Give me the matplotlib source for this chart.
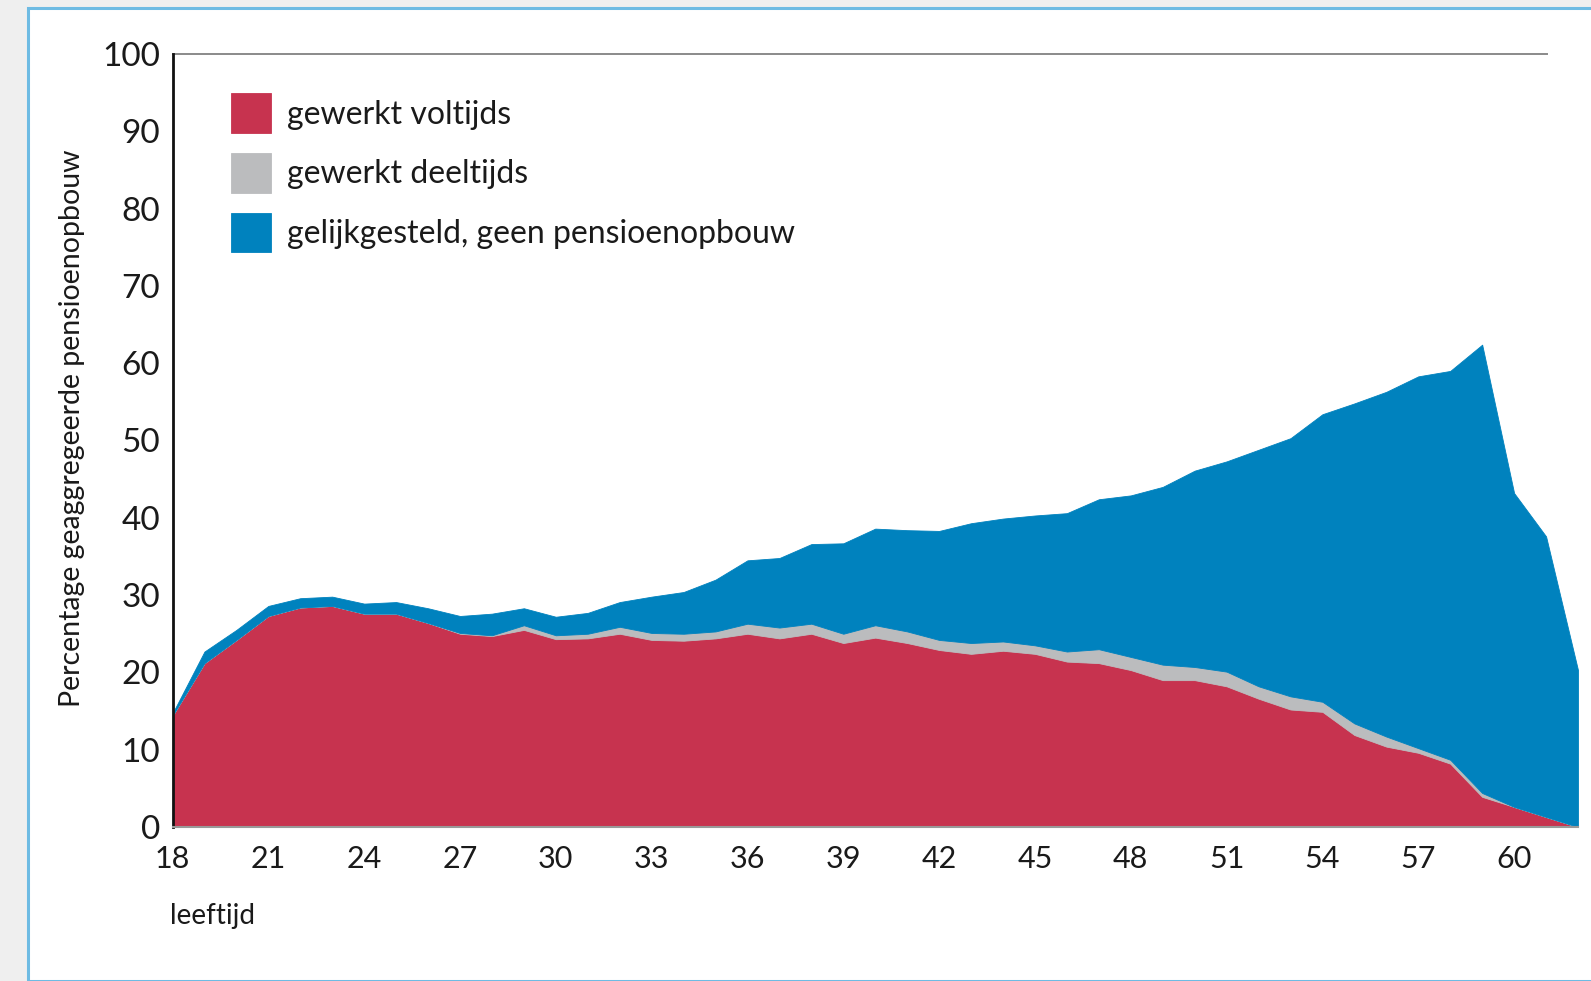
import matplotlib
matplotlib.use("Agg")
import matplotlib.pyplot as plt
from matplotlib.patches import Rectangle

# ---- data ----
ages = list(range(18, 63))
voltijds = [14.4, 21.2, 24.2, 27.3, 28.4, 28.6, 27.6, 27.6, 26.4, 25.0,
            24.7, 25.5, 24.3, 24.4, 25.0, 24.2, 24.1, 24.4, 25.0, 24.4,
            25.0, 23.8, 24.5, 23.8, 22.9, 22.4, 22.8, 22.4, 21.4, 21.2,
            20.3, 19.0, 19.0, 18.2, 16.6, 15.2, 14.9, 11.9, 10.4, 9.6,
            8.2, 3.9, 2.6, 1.3, 0.0]
deeltijds = [0.0, 0.0, 0.0, 0.0, 0.0, 0.0, 0.0, 0.0, 0.0, 0.1,
             0.1, 0.6, 0.5, 0.6, 0.9, 0.9, 0.9, 0.9, 1.3, 1.4,
             1.3, 1.2, 1.6, 1.5, 1.3, 1.4, 1.2, 1.1, 1.3, 1.8,
             1.7, 2.0, 1.7, 1.9, 1.6, 1.7, 1.3, 1.5, 1.3, 0.6,
             0.5, 0.5, 0.0, 0.0, 0.0]
gelijkgesteld = [0.3, 1.5, 1.3, 1.3, 1.2, 1.2, 1.3, 1.5, 1.9, 2.2,
                 2.8, 2.2, 2.4, 2.7, 3.2, 4.7, 5.4, 6.7, 8.2, 9.0,
                 10.3, 11.7, 12.5, 13.1, 14.1, 15.5, 15.9, 16.8, 17.9, 19.4,
                 20.9, 23.0, 25.4, 27.2, 30.6, 33.4, 37.2, 41.4, 44.6, 48.1,
                 50.3, 58.0, 40.6, 36.3, 20.3]
series_labels = ["gewerkt voltijds", "gewerkt deeltijds",
                 "gelijkgesteld, geen pensioenopbouw"]
x_ticks = list(range(18, 61, 3))
y_ticks = list(range(0, 101, 10))
y_label = "Percentage geaggregeerde pensioenopbouw"
x_label = "leeftijd"

colors = ["#C7334F", "#BBBCBE", "#0082BE"]
txt = "#1a1a1a"
plt.rcParams["font.family"] = ["Lato", "DejaVu Sans"]

W, H = 1591, 981
fig = plt.figure(figsize=(W / 100, H / 100), dpi=100)

# page background / frame
fig.patches.append(Rectangle((0, 0), 1, 1, transform=fig.transFigure,
                             facecolor="#EFEFEF", edgecolor="none", zorder=-10))
fig.patches.append(Rectangle((28 / W, 0), 1, 1 - 8 / H, transform=fig.transFigure,
                             facecolor="white", edgecolor="#6EBBE3", lw=2.2, zorder=-9))

ax = fig.add_axes([172.5 / W, 1 - 827 / H, (1578 - 172.5) / W, (827 - 54) / H])
ax.set_facecolor("none")
polys = ax.stackplot(ages, voltijds, deeltijds, gelijkgesteld, colors=colors,
                     labels=series_labels, linewidth=0.6)
for p, c in zip(polys, colors):
    p.set_edgecolor(c)

ax.set_xlim(18, 62)
ax.set_ylim(0, 100)
ax.set_xticks(x_ticks)
ax.set_yticks(y_ticks)
ax.tick_params(axis="both", length=0, colors=txt, labelsize=24)
ax.tick_params(axis="y", pad=9)
ax.tick_params(axis="x", pad=13)
for lab in ax.get_xticklabels():
    lab.set_fontsize(22)

for s in ["top", "right"]:
    ax.spines[s].set_visible(False)
ax.spines["left"].set_color("#111111")
ax.spines["left"].set_linewidth(2)
ax.spines["bottom"].set_color("#999999")
ax.spines["bottom"].set_linewidth(1.5)
ax.axhline(100, xmin=0, xmax=0.978, color="#8a8a8a", lw=1.4, clip_on=False)

ax.set_ylabel(y_label, fontsize=20.5, color=txt)
ax.yaxis.set_label_coords(-0.062, 0.516)
fig.text(170 / W, 1 - 916 / H, x_label, fontsize=20, color=txt,
         ha="left", va="center")

leg = ax.legend(loc="upper left", bbox_to_anchor=(0.0416, 0.949), frameon=False,
                fontsize=23, handlelength=1.25, handleheight=1.52,
                handletextpad=0.5, labelspacing=0.64, borderaxespad=0,
                borderpad=0)
for t in leg.get_texts():
    t.set_color(txt)

fig.savefig("out.png", dpi=100)
